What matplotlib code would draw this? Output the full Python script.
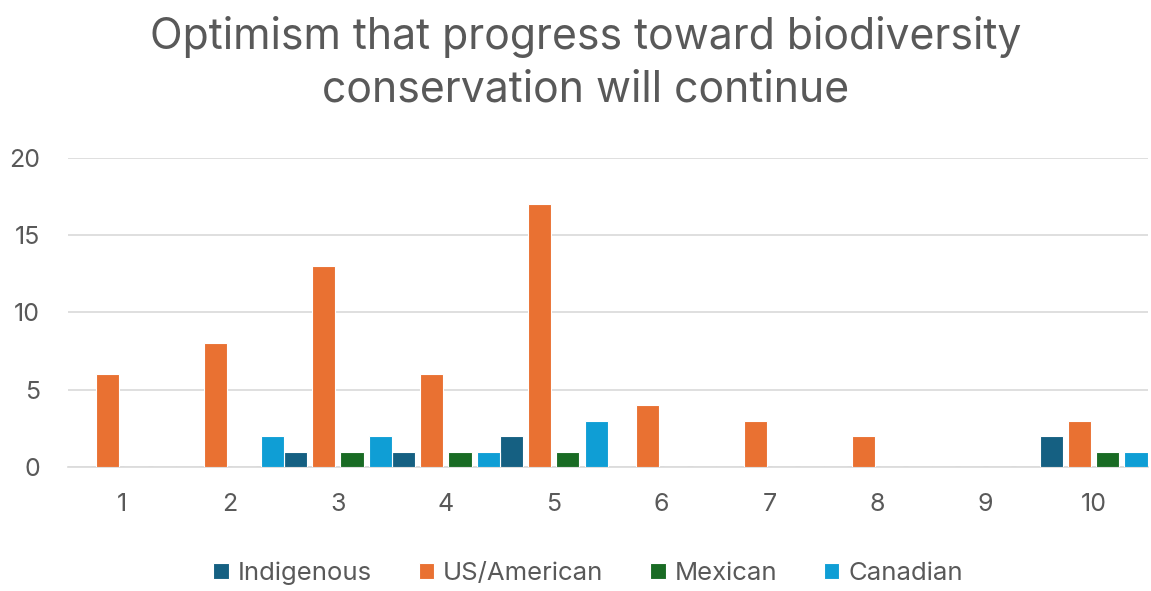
import numpy as np
import matplotlib.pyplot as plt
from matplotlib import font_manager

categories = ["1", "2", "3", "4", "5", "6", "7", "8", "9", "10"]
series_names = ["Indigenous", "US/American", "Mexican", "Canadian"]
indigenous = [0, 0, 1, 1, 2, 0, 0, 0, 0, 2]
us_american = [6, 8, 13, 6, 17, 4, 3, 2, 0, 3]
mexican = [0, 0, 1, 1, 1, 0, 0, 0, 0, 1]
canadian = [0, 2, 2, 1, 3, 0, 0, 0, 0, 1]
colors = ["#156082", "#E97132", "#196B24", "#0F9ED5"]

TEXT = "#595959"
fams = [f.name for f in font_manager.fontManager.ttflist]
base_font = "Inter" if "Inter" in fams else "DejaVu Sans"
plt.rcParams["font.family"] = [base_font, "DejaVu Sans"]

fig = plt.figure(figsize=(11.51, 5.91), dpi=100)
ax = fig.add_axes([0.059, 0.2098, 0.938, 0.5229])

x = np.arange(len(categories))
width = 0.215
step = 0.262
offsets = [-1.5 * step, -0.5 * step, 0.5 * step, 1.5 * step]
handles = []
for vals, off, col, name in zip([indigenous, us_american, mexican, canadian],
                                offsets, colors, series_names):
    h = ax.bar(x + off, vals, width, color=col, edgecolor="white",
               linewidth=0.8, label=name, zorder=3)
    handles.append(h)

ax.set_xlim(-0.5, len(categories) - 0.5)
ax.set_ylim(0, 20)
ax.set_yticks([0, 5, 10, 15, 20])
ax.set_xticks(x)
ax.set_xticklabels(categories)
ax.grid(axis="y", color="#D9D9D9", linewidth=1.2, zorder=0)
for s in ["top", "right", "left"]:
    ax.spines[s].set_visible(False)
ax.spines["bottom"].set_color("#D9D9D9")
ax.spines["bottom"].set_linewidth(1.2)
ax.tick_params(axis="both", length=0, labelsize=18, colors=TEXT)
ax.tick_params(axis="x", pad=19)
ax.tick_params(axis="y", pad=20)

fig.text(0.509, 0.893, "Optimism that progress toward biodiversity\nconservation will continue",
         ha="center", va="center", fontsize=30.8, color=TEXT, linespacing=1.38)

leg = fig.legend(handles=handles, loc="center", bbox_to_anchor=(0.511, 0.03),
                 ncol=4, frameon=False, handlelength=0.6, handleheight=0.6,
                 handletextpad=0.35, columnspacing=1.82,
                 prop={"size": 18.5})
for t in leg.get_texts():
    t.set_color(TEXT)

fig.savefig("out.png", dpi=100)
